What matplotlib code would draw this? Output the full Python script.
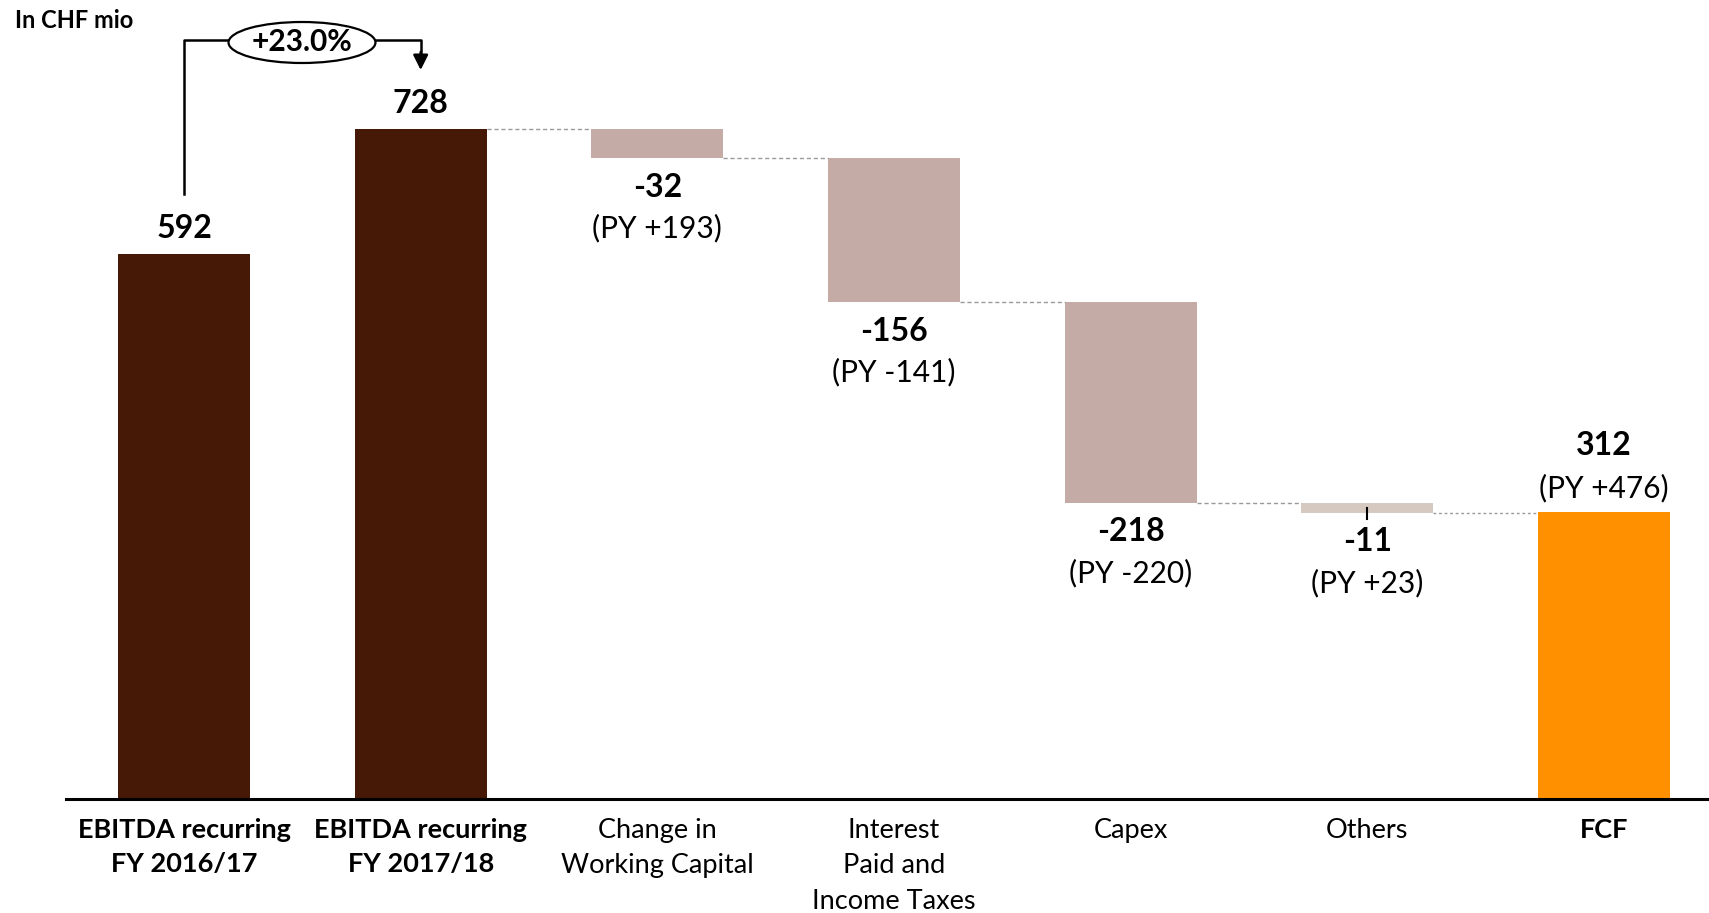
import matplotlib
matplotlib.use("Agg")
import matplotlib.pyplot as plt
from matplotlib.patches import Ellipse

plt.rcParams['font.family'] = ['Lato', 'DejaVu Sans']

# Free cash flow bridge, CHF mio
labels = ["EBITDA recurring\nFY 2016/17", "EBITDA recurring\nFY 2017/18",
          "Change in\nWorking Capital", "Interest\nPaid and\nIncome Taxes",
          "Capex", "Others", "FCF"]
label_bold = [True, True, False, False, False, False, True]
ebitda_py = 592
ebitda = 728
deltas = [-32, -156, -218, -11]
delta_py = ["(PY +193)", "(PY -141)", "(PY -220)", "(PY +23)"]
fcf = 312
fcf_py = "(PY +476)"
growth = "+23.0%"

dark = "#461806"
drop = "#C4ABA5"
drop_light = "#D5C9C0"
orange = "#FF9000"

fig = plt.figure(figsize=(17.09, 9.13), dpi=100)
ax = fig.add_axes([0, 0, 1, 1])
ax.set_xlim(-0.7775, 6.4436)
ax.set_ylim(-123.9, 868.2)
ax.axis("off")

w = 0.558
px = 1 / 0.9203  # data units per pixel on y

# totals
ax.bar(0, ebitda_py, width=w, color=dark)
ax.bar(1, ebitda, width=w, color=dark)
ax.bar(6, fcf, width=w, color=orange)

# steps
level = ebitda
bottoms = []
for i, d in enumerate(deltas):
    x = i + 2
    c = drop_light if i == len(deltas) - 1 else drop
    ax.bar(x, d, bottom=level, width=w, color=c)
    # connector from previous bar
    ax.plot([x - 1 + w / 2, x - w / 2], [level, level], color="#9a9a9a",
            lw=1, ls=(0, (3, 2)))
    level += d
    bottoms.append(level)
ax.plot([5 + w / 2, 6 - w / 2], [level, level], color="#9a9a9a", lw=1, ls=(0, (2, 2)))

# leader tick under "Others"
ax.plot([5, 5], [bottoms[-1] + 5 * px, bottoms[-1] - 6 * px], color="black", lw=1.5)

# value labels
def lab(x, y, txt, dy, bold=True, size=23):
    ax.annotate(txt, (x, y), xytext=(0, dy * 0.72), textcoords="offset points",
                ha="center", va="center", fontsize=size,
                fontweight="bold" if bold else "normal", color="black")

lab(0, ebitda_py, str(ebitda_py), 26)
lab(1, ebitda, str(ebitda), 26)
for i, d in enumerate(deltas):
    lab(i + 2, bottoms[i], str(d), -29)
    lab(i + 2, bottoms[i], delta_py[i], -70, bold=False, size=21.5)
lab(6, fcf, str(fcf), 66)
lab(6, fcf, fcf_py, 24, bold=False, size=21.5)

# baseline
ax.axhline(0, xmin=(-0.4985 + 0.7775) / (6.4436 + 0.7775), color="black", lw=2.2)

# category labels
for i, t in enumerate(labels):
    ax.text(i, -19 * px, t, ha="center", va="top", fontsize=19.5,
            fontweight="bold" if label_bold[i] else "normal", linespacing=1.52)

# growth bracket
top = 868.2 - 40 * px
tip = ebitda + 59 * px
ax.plot([0, 0, 0.2], [ebitda_py + 60 * px, top, top], color="black", lw=1.8)
ax.plot([0.8, 1, 1], [top, top, tip + 12 * px], color="black", lw=1.8)
ax.annotate("", xy=(1, tip), xytext=(1, tip + 18 * px),
            arrowprops=dict(arrowstyle="-|>,head_length=0.9,head_width=0.45",
                            color="black", lw=1.8, shrinkA=0, shrinkB=0))
ax.add_patch(Ellipse((0.4985, 868.2 - 42.5 * px), 0.621, 41 * px,
                     facecolor="white", edgecolor="black", lw=1.6, zorder=3))
ax.text(0.4985, 868.2 - 42 * px, growth, ha="center", va="center",
        fontsize=21.5, fontweight="bold", zorder=4)

fig.text(15 / 1709, 1 - 20 / 913, "In CHF mio", ha="left", va="center",
         fontsize=17, fontweight="bold")

fig.savefig("out.png", dpi=100)
